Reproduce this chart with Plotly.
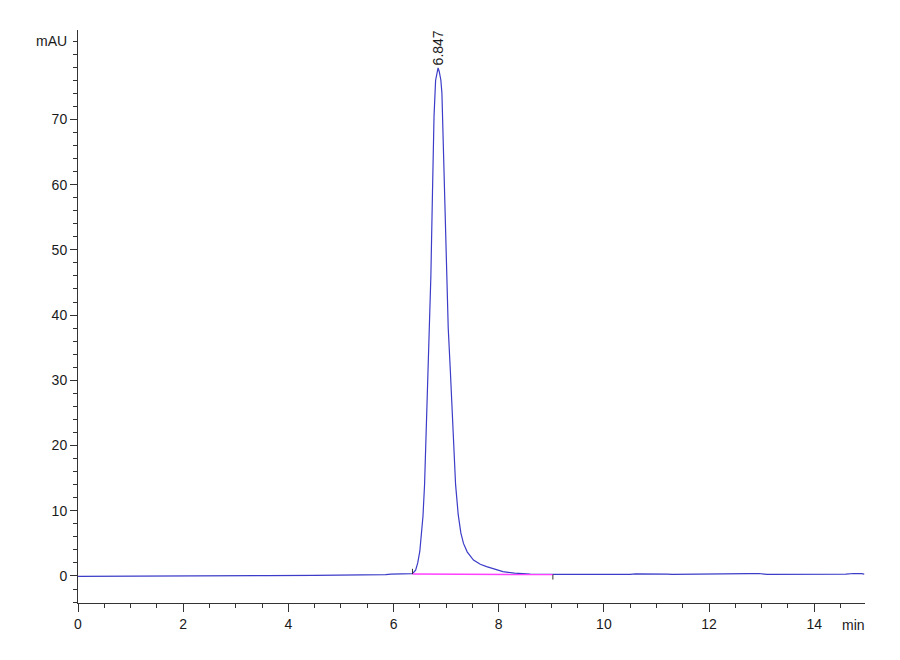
import plotly.graph_objects as go

# chromatogram trace (time in min, signal in mAU)
time_min = [
    0.00, 1.00, 2.00, 3.00, 3.20, 3.30, 3.45, 3.60, 4.50, 5.50, 5.85, 5.95,
    6.30, 6.36, 6.42, 6.46, 6.50, 6.53, 6.56, 6.59, 6.62, 6.65, 6.68, 6.71,
    6.74, 6.77, 6.80, 6.83, 6.847, 6.87, 6.90, 6.92, 6.95, 6.98, 7.01, 7.04,
    7.08, 7.11, 7.14, 7.18, 7.23, 7.28, 7.33, 7.40, 7.52, 7.65, 7.77, 7.92,
    8.08, 8.30, 8.60, 9.00, 9.50, 10.50, 10.60, 10.85, 10.95, 11.05, 11.20,
    11.30, 12.60, 12.75, 12.95, 13.10, 14.60, 14.75, 14.90, 14.95,
]
signal_mau = [
    -0.05, -0.05, -0.05, -0.03, 0.00, -0.02, 0.02, 0.05, 0.08, 0.12, 0.20, 0.30,
    0.32, 0.35, 0.90, 2.00, 3.80, 6.00, 9.20, 14.0, 21.5, 30.0, 39.0, 46.0,
    58.5, 70.5, 76.0, 77.7, 77.9, 77.3, 76.0, 74.0, 65.0, 54.5, 45.5, 38.0,
    31.5, 25.5, 19.3, 14.0, 9.40, 6.60, 5.00, 3.70, 2.45, 1.80, 1.43, 1.00,
    0.66, 0.45, 0.30, 0.25, 0.22, 0.25, 0.32, 0.35, 0.25, 0.33, 0.30,
    0.25, 0.25, 0.35, 0.38, 0.25, 0.28, 0.38, 0.35, 0.30,
]

# integration baseline and peak label
baseline_t = [6.36, 9.03]
baseline_v = [0.30, 0.22]
start_mark_v = [0.30, 1.10]
end_mark_v = [0.22, -0.55]
peak_rt = 6.847
peak_height = 77.9

x_ticks = [0, 2, 4, 6, 8, 10, 12, 14]
y_ticks = [0, 10, 20, 30, 40, 50, 60, 70]

font = dict(family="Liberation Sans, Arial, sans-serif", size=14, color="#1a1a1a")

fig = go.Figure()

fig.add_trace(go.Scatter(
    x=time_min, y=signal_mau, mode="lines",
    line=dict(color="#3c3cc8", width=1.2),
    hoverinfo="x+y",
))
fig.add_trace(go.Scatter(
    x=baseline_t, y=baseline_v, mode="lines",
    line=dict(color="#ff40ff", width=1.5),
))
fig.add_trace(go.Scatter(
    x=[baseline_t[0], baseline_t[0]], y=start_mark_v, mode="lines",
    line=dict(color="#333333", width=1),
))
fig.add_trace(go.Scatter(
    x=[baseline_t[1], baseline_t[1]], y=end_mark_v, mode="lines",
    line=dict(color="#333333", width=1),
))

fig.add_annotation(
    x=peak_rt, y=peak_height, text=f"{peak_rt:.3f}",
    textangle=-90, showarrow=False, yanchor="bottom", xanchor="center",
    yshift=0, font=dict(family=font["family"], size=14, color="#1a1a1a"),
)
fig.add_annotation(
    xref="paper", yref="y", x=0, y=82, text="mAU", showarrow=False,
    xanchor="right", xshift=-9, font=font,
)
fig.add_annotation(
    xref="paper", yref="paper", x=1, y=0, text="min", showarrow=False,
    xanchor="right", yanchor="top", yshift=-12, xshift=2, font=font,
)

# page body adds an 8px offset, so the figure is sized a bit smaller
fig.update_layout(
    width=892, height=652,
    margin=dict(l=70, r=35, t=22, b=57),
    paper_bgcolor="white", plot_bgcolor="white",
    showlegend=False,
    font=font,
)
fig.update_xaxes(
    range=[0, 14.965], tickvals=x_ticks, ticktext=[str(v) for v in x_ticks],
    showgrid=False, zeroline=False, showline=True, linecolor="#333333", linewidth=1,
    ticks="outside", ticklen=8, tickcolor="#333333",
    minor=dict(dtick=0.5, ticks="outside", ticklen=4, tickcolor="#333333", showgrid=False),
    tickfont=font,
)
fig.update_yaxes(
    range=[-4.14, 83.7], tickvals=y_ticks, ticktext=[str(v) for v in y_ticks],
    showgrid=False, zeroline=False, showline=True, linecolor="#333333", linewidth=1,
    ticks="outside", ticklen=7, tickcolor="#333333",
    minor=dict(dtick=2, ticks="outside", ticklen=4, tickcolor="#333333", showgrid=False),
    tickfont=font,
)

fig.write_html("out.html")
